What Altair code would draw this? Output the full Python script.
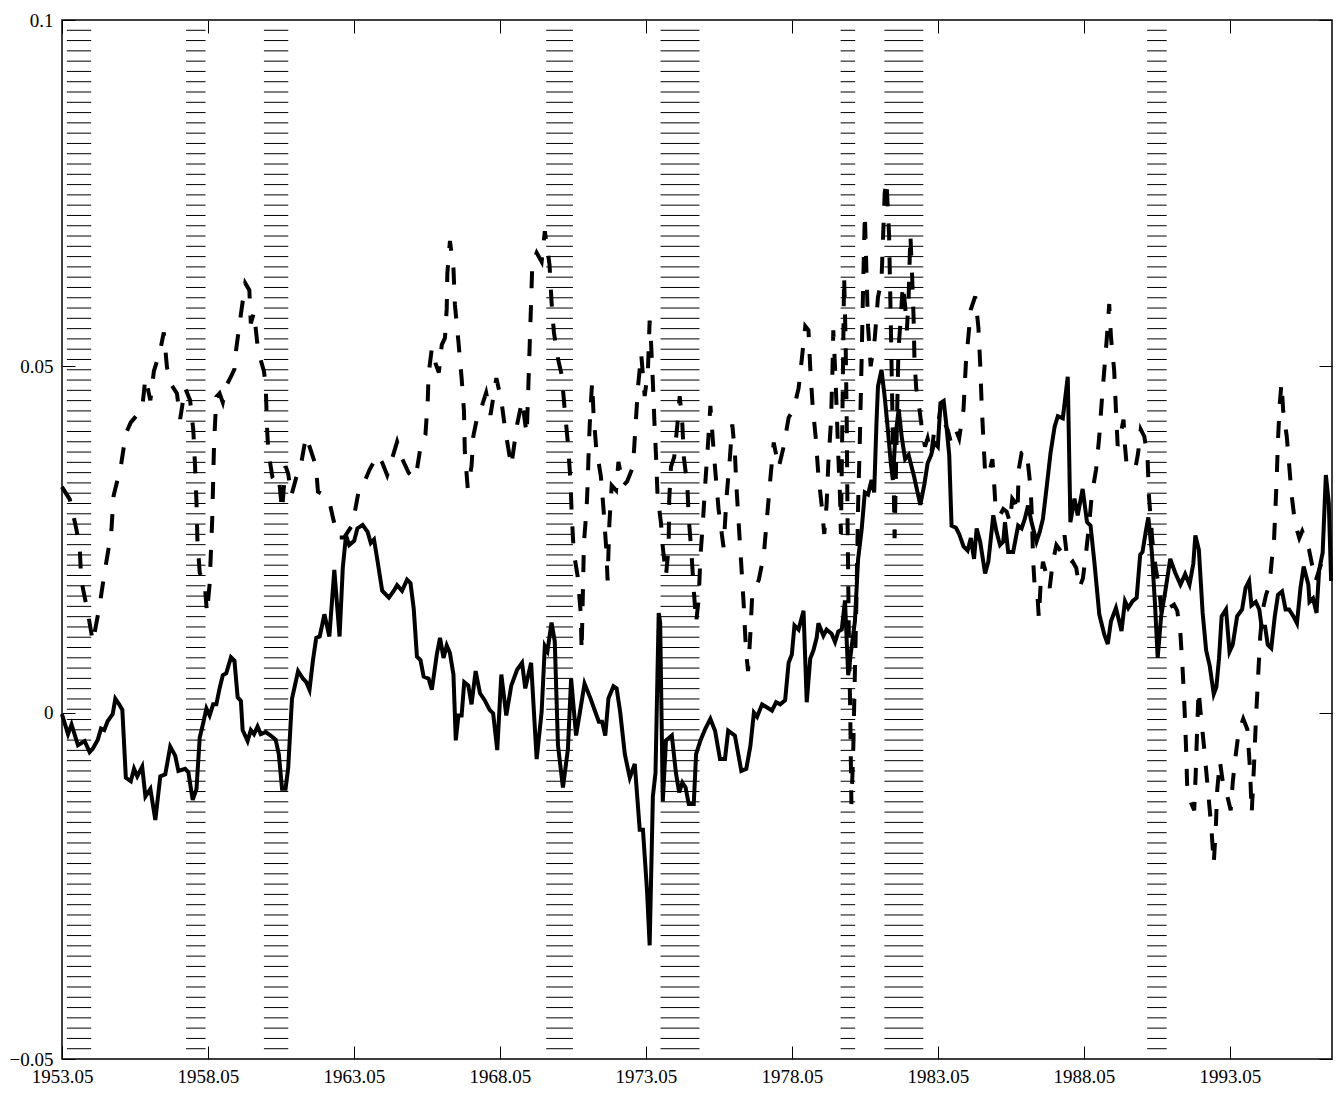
import altair as alt
import pandas as pd

# ---------------- data ----------------
solid_year = [
    1953.33, 1953.54, 1953.66, 1953.88, 1954.11, 1954.28, 1954.39, 1954.56, 1954.67, 1954.78,
    1954.90, 1955.07, 1955.16, 1955.29, 1955.40, 1955.52, 1955.69, 1955.80, 1955.91, 1956.08,
    1956.19, 1956.36, 1956.53, 1956.70, 1956.87, 1957.04, 1957.21, 1957.32, 1957.55, 1957.66,
    1957.81, 1957.94, 1958.05, 1958.17, 1958.28, 1958.39, 1958.51, 1958.62, 1958.73, 1958.84,
    1958.96, 1959.12, 1959.24, 1959.35, 1959.46, 1959.52, 1959.69, 1959.80, 1959.91, 1960.03,
    1960.14, 1960.31, 1960.48, 1960.65, 1960.76, 1960.87, 1960.99, 1961.08, 1961.21, 1961.42,
    1961.59, 1961.70, 1961.81, 1961.93, 1962.04, 1962.16, 1962.32, 1962.49, 1962.66, 1962.84,
    1962.95, 1963.06, 1963.17, 1963.34, 1963.45, 1963.63, 1963.80, 1963.91, 1964.02, 1964.14,
    1964.30, 1964.53, 1964.70, 1964.81, 1964.98, 1965.15, 1965.27, 1965.38, 1965.49, 1965.61,
    1965.72, 1965.89, 1966.00, 1966.17, 1966.28, 1966.40, 1966.51, 1966.62, 1966.74, 1966.82,
    1966.91, 1967.02, 1967.11, 1967.25, 1967.36, 1967.50, 1967.65, 1967.81, 1967.98, 1968.10,
    1968.24, 1968.38, 1968.55, 1968.72, 1968.92, 1969.09, 1969.20, 1969.40, 1969.59, 1969.76,
    1969.87, 1969.96, 1970.10, 1970.21, 1970.32, 1970.49, 1970.66, 1970.77, 1970.94, 1971.10,
    1971.23, 1971.43, 1971.60, 1971.72, 1971.83, 1971.94, 1972.05, 1972.22, 1972.33, 1972.45,
    1972.61, 1972.78, 1972.95, 1973.12, 1973.23, 1973.37, 1973.46, 1973.57, 1973.66, 1973.77,
    1973.82, 1973.91, 1974.02, 1974.22, 1974.36, 1974.47, 1974.58, 1974.69, 1974.80, 1974.97,
    1975.05, 1975.20, 1975.37, 1975.54, 1975.70, 1975.87, 1976.04, 1976.15, 1976.38, 1976.60,
    1976.77, 1976.91, 1977.03, 1977.14, 1977.31, 1977.54, 1977.65, 1977.79, 1977.93, 1978.10,
    1978.22, 1978.33, 1978.42, 1978.56, 1978.73, 1978.84, 1978.96, 1979.07, 1979.18, 1979.24,
    1979.41, 1979.52, 1979.69, 1979.81, 1979.92, 1980.04, 1980.15, 1980.26, 1980.38, 1980.49,
    1980.60, 1980.72, 1980.83, 1980.94, 1981.06, 1981.15, 1981.23, 1981.28, 1981.40, 1981.51,
    1981.62, 1981.72, 1981.79, 1981.87, 1981.99, 1982.10, 1982.21, 1982.33, 1982.51, 1982.73,
    1982.87, 1982.98, 1983.10, 1983.21, 1983.33, 1983.42, 1983.53, 1983.61, 1983.72, 1983.80,
    1983.95, 1984.06, 1984.21, 1984.35, 1984.46, 1984.57, 1984.66, 1984.78, 1984.95, 1985.06,
    1985.23, 1985.34, 1985.46, 1985.57, 1985.63, 1985.74, 1985.91, 1986.08, 1986.20, 1986.31,
    1986.42, 1986.54, 1986.71, 1986.82, 1986.93, 1987.05, 1987.19, 1987.33, 1987.44, 1987.61,
    1987.78, 1987.87, 1988.01, 1988.12, 1988.29, 1988.44, 1988.56, 1988.69, 1988.86, 1989.03,
    1989.15, 1989.26, 1989.43, 1989.54, 1989.62, 1989.74, 1989.85, 1990.00, 1990.14, 1990.26,
    1990.34, 1990.45, 1990.54, 1990.66, 1990.77, 1990.86, 1990.98, 1991.12, 1991.29, 1991.46,
    1991.64, 1991.80, 1991.95, 1992.08, 1992.15, 1992.27, 1992.40, 1992.52, 1992.64, 1992.78,
    1992.87, 1992.96, 1993.05, 1993.20, 1993.32, 1993.43, 1993.58, 1993.75, 1993.87, 1993.99,
    1994.07, 1994.22, 1994.34, 1994.42, 1994.54, 1994.63, 1994.75, 1994.87, 1994.98, 1995.12,
    1995.24, 1995.36, 1995.51, 1995.63, 1995.75, 1995.86, 1996.02, 1996.06, 1996.18, 1996.30,
    1996.39, 1996.51, 1996.62, 1996.72, 1996.80,
]
solid_value = [
    -0.0002, -0.0031, -0.0017, -0.0047, -0.0041, -0.0057, -0.0052, -0.0039, -0.0023, -0.0025,
    -0.0012, -0.0002, 0.0020, 0.0012, 0.0004, -0.0094, -0.0099, -0.0081, -0.0092, -0.0078,
    -0.0121, -0.0110, -0.0155, -0.0092, -0.0089, -0.0049, -0.0062, -0.0084, -0.0081, -0.0086,
    -0.0126, -0.0110, -0.0036, -0.0015, 0.0006, -0.0004, 0.0012, 0.0012, 0.0035, 0.0054,
    0.0057, 0.0080, 0.0075, 0.0022, 0.0017, -0.0025, -0.0041, -0.0025, -0.0031, -0.0020,
    -0.0031, -0.0028, -0.0033, -0.0039, -0.0060, -0.0110, -0.0110, -0.0080, 0.0020, 0.0060,
    0.0049, 0.0044, 0.0033, 0.0076, 0.0108, 0.0110, 0.0142, 0.0110, 0.0206, 0.0110,
    0.0209, 0.0256, 0.0242, 0.0248, 0.0266, 0.0271, 0.0261, 0.0245, 0.0250, 0.0219,
    0.0176, 0.0166, 0.0176, 0.0184, 0.0176, 0.0192, 0.0187, 0.0150, 0.0081, 0.0076,
    0.0052, 0.0049, 0.0033, 0.0084, 0.0108, 0.0079, 0.0097, 0.0086, 0.0055, -0.0040,
    -0.0004, -0.0004, 0.0044, 0.0039, 0.0012, 0.0060, 0.0028, 0.0018, 0.0004, -0.0001,
    -0.0054, 0.0055, -0.0004, 0.0039, 0.0062, 0.0072, 0.0035, 0.0072, -0.0067, 0.0001,
    0.0096, 0.0089, 0.0130, 0.0103, -0.0047, -0.0108, -0.0053, 0.0049, -0.0033, 0.0008,
    0.0042, 0.0021, 0.0001, -0.0013, -0.0013, -0.0033, 0.0021, 0.0038, 0.0035, 0.0001,
    -0.0060, -0.0094, -0.0074, -0.0169, -0.0169, -0.0257, -0.0336, -0.0121, -0.0087, 0.0144,
    0.0130, -0.0128, -0.0040, -0.0033, -0.0087, -0.0115, -0.0101, -0.0108, -0.0132, -0.0132,
    -0.0060, -0.0040, -0.0023, -0.0009, -0.0026, -0.0067, -0.0067, -0.0026, -0.0033, -0.0084,
    -0.0081, -0.0048, 0.0000, -0.0006, 0.0012, 0.0006, 0.0003, 0.0015, 0.0012, 0.0018,
    0.0072, 0.0084, 0.0126, 0.0120, 0.0147, 0.0015, 0.0078, 0.0090, 0.0108, 0.0129,
    0.0111, 0.0120, 0.0114, 0.0102, 0.0117, 0.0120, 0.0162, 0.0054, 0.0096, 0.0132,
    0.0222, 0.0264, 0.0318, 0.0315, 0.0336, 0.0318, 0.0420, 0.0471, 0.0495, 0.0456,
    0.0408, 0.0360, 0.0336, 0.0396, 0.0438, 0.0396, 0.0366, 0.0372, 0.0342, 0.0300,
    0.0330, 0.0360, 0.0372, 0.0390, 0.0384, 0.0447, 0.0450, 0.0420, 0.0372, 0.0270,
    0.0267, 0.0258, 0.0240, 0.0234, 0.0252, 0.0222, 0.0266, 0.0247, 0.0201, 0.0218,
    0.0285, 0.0261, 0.0242, 0.0247, 0.0275, 0.0232, 0.0232, 0.0270, 0.0266, 0.0280,
    0.0299, 0.0275, 0.0247, 0.0261, 0.0280, 0.0323, 0.0375, 0.0413, 0.0428, 0.0425,
    0.0485, 0.0275, 0.0309, 0.0285, 0.0323, 0.0275, 0.0270, 0.0218, 0.0142, 0.0113,
    0.0099, 0.0132, 0.0151, 0.0132, 0.0118, 0.0161, 0.0151, 0.0161, 0.0166, 0.0228,
    0.0232, 0.0261, 0.0282, 0.0232, 0.0155, 0.0079, 0.0140, 0.0175, 0.0222, 0.0202,
    0.0185, 0.0200, 0.0185, 0.0215, 0.0256, 0.0235, 0.0144, 0.0090, 0.0068, 0.0027,
    0.0037, 0.0078, 0.0139, 0.0149, 0.0088, 0.0098, 0.0139, 0.0149, 0.0180, 0.0190,
    0.0155, 0.0160, 0.0149, 0.0124, 0.0124, 0.0098, 0.0093, 0.0139, 0.0170, 0.0175,
    0.0149, 0.0149, 0.0139, 0.0129, 0.0180, 0.0211, 0.0185, 0.0160, 0.0165, 0.0144,
    0.0206, 0.0231, 0.0343, 0.0303, 0.0190,
]

dashed_year = [
    1953.33, 1953.60, 1953.82, 1953.94, 1953.99, 1954.22, 1954.39, 1954.62, 1954.79, 1955.02,
    1955.10, 1955.35, 1955.52, 1955.69, 1955.91, 1956.08, 1956.19, 1956.36, 1956.48, 1956.68,
    1956.82, 1956.93, 1957.10, 1957.27, 1957.38, 1957.55, 1957.72, 1957.83, 1957.89, 1957.94,
    1957.97, 1958.05, 1958.22, 1958.30, 1958.39, 1958.48, 1958.54, 1958.62, 1958.73, 1958.84,
    1958.96, 1959.12, 1959.24, 1959.30, 1959.47, 1959.61, 1959.75, 1959.80, 1959.91, 1960.03,
    1960.14, 1960.25, 1960.31, 1960.36, 1960.40, 1960.54, 1960.65, 1960.76, 1960.87, 1960.99,
    1961.08, 1961.19, 1961.36, 1961.53, 1961.69, 1961.82, 1962.03, 1962.10, 1962.33, 1962.50,
    1962.61, 1962.78, 1963.00, 1963.28, 1963.49, 1963.68, 1963.87, 1964.14, 1964.30, 1964.47,
    1964.81, 1964.98, 1965.21, 1965.42, 1965.49, 1965.61, 1965.78, 1965.86, 1965.89, 1966.00,
    1966.13, 1966.24, 1966.34, 1966.45, 1966.51, 1966.53, 1966.62, 1966.74, 1966.79, 1966.91,
    1967.02, 1967.10, 1967.13, 1967.23, 1967.36, 1967.42, 1967.57, 1967.70, 1967.86, 1968.01,
    1968.21, 1968.38, 1968.51, 1968.72, 1968.92, 1969.09, 1969.25, 1969.31, 1969.40, 1969.44,
    1969.59, 1969.76, 1969.87, 1970.03, 1970.10, 1970.18, 1970.32, 1970.45, 1970.54, 1970.66,
    1970.75, 1970.79, 1970.86, 1970.99, 1971.10, 1971.13, 1971.21, 1971.30, 1971.34, 1971.38,
    1971.43, 1971.49, 1971.54, 1971.63, 1971.71, 1971.79, 1971.88, 1971.97, 1972.02, 1972.08,
    1972.16, 1972.31, 1972.39, 1972.56, 1972.69, 1972.89, 1972.98, 1973.06, 1973.17, 1973.29,
    1973.40, 1973.46, 1973.51, 1973.57, 1973.62, 1973.68, 1973.73, 1973.85, 1973.91, 1974.02,
    1974.11, 1974.13, 1974.19, 1974.30, 1974.41, 1974.49, 1974.58, 1974.63, 1974.75, 1974.80,
    1974.89, 1974.97, 1975.05, 1975.14, 1975.20, 1975.28, 1975.37, 1975.46, 1975.54, 1975.62,
    1975.71, 1975.82, 1975.99, 1976.10, 1976.21, 1976.29, 1976.38, 1976.43, 1976.51, 1976.59,
    1976.68, 1976.76, 1976.83, 1976.91, 1976.97, 1977.20, 1977.37, 1977.48, 1977.59, 1977.71,
    1977.88, 1978.05, 1978.22, 1978.39, 1978.56, 1978.67, 1978.79, 1978.90, 1978.96, 1979.04,
    1979.15, 1979.24, 1979.35, 1979.44, 1979.52, 1979.58, 1979.67, 1979.72, 1979.75, 1979.81,
    1979.86, 1979.92, 1979.98, 1980.01, 1980.06, 1980.12, 1980.17, 1980.21, 1980.24, 1980.28,
    1980.33, 1980.37, 1980.43, 1980.49, 1980.55, 1980.60, 1980.66, 1980.72, 1980.77, 1980.83,
    1980.89, 1980.94, 1981.03, 1981.17, 1981.28, 1981.40, 1981.51, 1981.57, 1981.66, 1981.72,
    1981.78, 1981.85, 1981.92, 1981.98, 1982.06, 1982.13, 1982.21, 1982.27, 1982.33, 1982.39,
    1982.45, 1982.50, 1982.53, 1982.59, 1982.70, 1982.81, 1982.89, 1982.98, 1983.10, 1983.21,
    1983.33, 1983.44, 1983.55, 1983.67, 1983.78, 1983.95, 1984.06, 1984.21, 1984.29, 1984.37,
    1984.46, 1984.61, 1984.72, 1984.78, 1984.83, 1984.89, 1984.95, 1985.06, 1985.20, 1985.27,
    1985.31, 1985.46, 1985.57, 1985.69, 1985.80, 1985.88, 1985.97, 1986.06, 1986.10, 1986.20,
    1986.37, 1986.45, 1986.51, 1986.56, 1986.59, 1986.65, 1986.74, 1986.79, 1986.85, 1986.93,
    1987.05, 1987.16, 1987.27, 1987.39, 1987.56, 1987.67, 1987.76, 1987.84, 1987.95, 1988.07,
    1988.18, 1988.30, 1988.41, 1988.52, 1988.60, 1988.75, 1988.86, 1988.94, 1989.03, 1989.12,
    1989.20, 1989.26, 1989.37, 1989.43, 1989.49, 1989.60, 1989.69, 1989.74, 1989.80, 1989.94,
    1990.11, 1990.19, 1990.28, 1990.40, 1990.51, 1990.56, 1990.68, 1990.79, 1990.91, 1991.00,
    1991.13, 1991.25, 1991.42, 1991.53, 1991.64, 1991.72, 1991.79, 1991.83, 1991.87, 1992.00,
    1992.11, 1992.16, 1992.22, 1992.26, 1992.34, 1992.46, 1992.58, 1992.70, 1992.78, 1992.85,
    1992.90, 1992.99, 1993.11, 1993.22, 1993.36, 1993.43, 1993.52, 1993.63, 1993.79, 1993.93,
    1994.02, 1994.08, 1994.16, 1994.22, 1994.30, 1994.37, 1994.46, 1994.57, 1994.69, 1994.77,
    1994.84, 1994.89, 1994.94, 1994.98, 1995.04, 1995.10, 1995.16, 1995.28, 1995.36, 1995.45,
    1995.57, 1995.71, 1995.81, 1995.90, 1996.04, 1996.16, 1996.27, 1996.39, 1996.51, 1996.69,
    1996.80,
]
dashed_value = [
    0.0326, 0.0308, 0.0266, 0.0239, 0.0192, 0.0144, 0.0102, 0.0154, 0.0202, 0.0260,
    0.0313, 0.0356, 0.0403, 0.0419, 0.0430, 0.0440, 0.0483, 0.0451, 0.0493, 0.0520,
    0.0549, 0.0498, 0.0472, 0.0461, 0.0424, 0.0469, 0.0451, 0.0408, 0.0356, 0.0303,
    0.0250, 0.0202, 0.0186, 0.0144, 0.0186, 0.0281, 0.0387, 0.0456, 0.0461, 0.0448,
    0.0472, 0.0485, 0.0496, 0.0525, 0.0578, 0.0620, 0.0610, 0.0562, 0.0578, 0.0530,
    0.0509, 0.0493, 0.0472, 0.0408, 0.0377, 0.0340, 0.0334, 0.0340, 0.0292, 0.0356,
    0.0345, 0.0314, 0.0340, 0.0361, 0.0399, 0.0383, 0.0356, 0.0319, 0.0314, 0.0303,
    0.0282, 0.0253, 0.0253, 0.0271, 0.0319, 0.0332, 0.0351, 0.0372, 0.0361, 0.0343,
    0.0391, 0.0367, 0.0346, 0.0338, 0.0351, 0.0383, 0.0401, 0.0451, 0.0489, 0.0526,
    0.0504, 0.0491, 0.0531, 0.0541, 0.0584, 0.0634, 0.0681, 0.0642, 0.0589, 0.0536,
    0.0483, 0.0436, 0.0377, 0.0324, 0.0356, 0.0399, 0.0430, 0.0441, 0.0462, 0.0430,
    0.0483, 0.0451, 0.0409, 0.0356, 0.0416, 0.0450, 0.0402, 0.0477, 0.0593, 0.0647,
    0.0664, 0.0651, 0.0695, 0.0647, 0.0593, 0.0549, 0.0511, 0.0487, 0.0443, 0.0389,
    0.0334, 0.0287, 0.0232, 0.0198, 0.0144, 0.0089, 0.0246, 0.0294, 0.0334, 0.0389,
    0.0436, 0.0477, 0.0430, 0.0382, 0.0362, 0.0341, 0.0294, 0.0239, 0.0191, 0.0273,
    0.0328, 0.0321, 0.0362, 0.0328, 0.0334, 0.0355, 0.0416, 0.0470, 0.0518, 0.0457,
    0.0493, 0.0566, 0.0532, 0.0477, 0.0423, 0.0369, 0.0314, 0.0273, 0.0239, 0.0198,
    0.0239, 0.0307, 0.0355, 0.0369, 0.0416, 0.0457, 0.0416, 0.0369, 0.0328, 0.0280,
    0.0232, 0.0178, 0.0130, 0.0164, 0.0226, 0.0273, 0.0334, 0.0389, 0.0443, 0.0396,
    0.0348, 0.0294, 0.0239, 0.0314, 0.0369, 0.0416, 0.0375, 0.0328, 0.0273, 0.0219,
    0.0157, 0.0089, 0.0060, 0.0114, 0.0168, 0.0192, 0.0228, 0.0282, 0.0336, 0.0390,
    0.0354, 0.0384, 0.0426, 0.0438, 0.0468, 0.0510, 0.0558, 0.0552, 0.0498, 0.0444,
    0.0396, 0.0342, 0.0300, 0.0258, 0.0300, 0.0360, 0.0420, 0.0492, 0.0552, 0.0498,
    0.0444, 0.0372, 0.0312, 0.0258, 0.0420, 0.0630, 0.0540, 0.0420, 0.0270, 0.0120,
    0.0000, -0.0132, -0.0060, 0.0060, 0.0180, 0.0300, 0.0396, 0.0510, 0.0612, 0.0720,
    0.0630, 0.0558, 0.0500, 0.0540, 0.0600, 0.0624, 0.0750, 0.0768, 0.0690, 0.0560,
    0.0420, 0.0252, 0.0400, 0.0522, 0.0570, 0.0618, 0.0588, 0.0552, 0.0600, 0.0690,
    0.0630, 0.0570, 0.0510, 0.0468, 0.0438, 0.0402, 0.0384, 0.0396, 0.0372, 0.0408,
    0.0414, 0.0444, 0.0420, 0.0408, 0.0390, 0.0408, 0.0396, 0.0438, 0.0504, 0.0540,
    0.0582, 0.0601, 0.0556, 0.0504, 0.0447, 0.0394, 0.0347, 0.0342, 0.0366, 0.0323,
    0.0294, 0.0285, 0.0294, 0.0290, 0.0275, 0.0309, 0.0304, 0.0290, 0.0351, 0.0375,
    0.0378, 0.0347, 0.0323, 0.0275, 0.0223, 0.0180, 0.0170, 0.0137, 0.0185, 0.0218,
    0.0199, 0.0180, 0.0218, 0.0242, 0.0232, 0.0256, 0.0223, 0.0213, 0.0218, 0.0209,
    0.0180, 0.0194, 0.0232, 0.0275, 0.0313, 0.0351, 0.0399, 0.0447, 0.0494, 0.0542,
    0.0590, 0.0542, 0.0494, 0.0437, 0.0385, 0.0404, 0.0423, 0.0385, 0.0356, 0.0351,
    0.0356, 0.0375, 0.0409, 0.0399, 0.0371, 0.0313, 0.0247, 0.0209, 0.0180, 0.0139,
    0.0142, 0.0151, 0.0156, 0.0147, 0.0113, 0.0058, -0.0004, -0.0049, -0.0106, -0.0130,
    -0.0141, -0.0090, -0.0014, 0.0032, -0.0004, -0.0055, -0.0111, -0.0167, -0.0218, -0.0167,
    -0.0111, -0.0070, -0.0106, -0.0116, -0.0141, -0.0101, -0.0065, -0.0029, -0.0009, -0.0024,
    -0.0080, -0.0145, -0.0075, -0.0014, 0.0053, 0.0109, 0.0149, 0.0170, 0.0185, 0.0221,
    0.0246, 0.0292, 0.0343, 0.0394, 0.0445, 0.0476, 0.0435, 0.0399, 0.0359, 0.0313,
    0.0272, 0.0252, 0.0262, 0.0252, 0.0236, 0.0211, 0.0190, 0.0206, 0.0221, 0.0231,
    0.0231,
]

# recession periods (decimal years)
recession_start = [1953.500, 1957.583, 1960.250, 1969.917, 1973.833, 1980.000, 1981.500, 1990.500]
recession_end   = [1954.333, 1958.250, 1961.083, 1970.833, 1975.167, 1980.500, 1982.833, 1991.167]

# axis tick values and labels
x_tick_values = [1953 + 4 / 12 + 5 * k for k in range(9)]
y_tick_values = [-0.05, 0.0, 0.05, 0.1]
x_domain = [1953 + 4 / 12, 1996.83]
y_domain = [-0.05, 0.1]

# ---------------- tables ----------------
solid_df = pd.DataFrame({"year": solid_year, "value": solid_value})
dashed_df = pd.DataFrame({"year": dashed_year, "value": dashed_value})

n_hatch = 100
hatch_levels = [y_domain[0] + (y_domain[1] - y_domain[0]) * (i + 1) / (n_hatch + 1) for i in range(n_hatch)]
hatch_rows = []
for s, e in zip(recession_start, recession_end):
    for lv in hatch_levels:
        hatch_rows.append({"start": s, "end": e, "level": lv})
hatch_df = pd.DataFrame(hatch_rows)

FONT = "Liberation Serif"
FS = 19
TICK = 13

x_scale = alt.Scale(domain=x_domain, nice=False, zero=False)
y_scale = alt.Scale(domain=y_domain, nice=False, zero=False)

common_axis = dict(
    domain=False, grid=False, title=None, tickSize=TICK, offset=-TICK,
    tickColor="black", tickWidth=1, labelFont=FONT, labelFontSize=FS,
    labelColor="black", labelFlush=False, labelOverlap=False, minExtent=0,
)

hatch = alt.Chart(hatch_df).mark_rule(color="black", strokeWidth=1).encode(
    x=alt.X("start:Q", scale=x_scale,
            axis=alt.Axis(orient="bottom", values=x_tick_values, labelPadding=8,
                          labelExpr="format(floor(datum.value + 0.001), 'd') + '.05'",
                          **common_axis)),
    x2="end:Q",
    y=alt.Y("level:Q", scale=y_scale,
            axis=alt.Axis(orient="left", values=y_tick_values, format="~g",
                          labelPadding=9, **common_axis)),
)

dashed = alt.Chart(dashed_df).mark_line(
    color="black", strokeWidth=4, strokeDash=[17, 17]
).encode(
    x=alt.X("year:Q", scale=x_scale, axis=None),
    y=alt.Y("value:Q", scale=y_scale, axis=None),
    order="year:Q",
)

solid = alt.Chart(solid_df).mark_line(color="black", strokeWidth=4).encode(
    x=alt.X("year:Q", scale=x_scale,
            axis=alt.Axis(orient="top", values=x_tick_values, labels=False, **common_axis)),
    y=alt.Y("value:Q", scale=y_scale,
            axis=alt.Axis(orient="right", values=y_tick_values, labels=False, **common_axis)),
    order="year:Q",
)

chart = (
    alt.layer(hatch, dashed, solid)
    .resolve_axis(x="independent", y="independent")
    .properties(
        width=1270, height=1039, background="white",
        autosize=alt.AutoSizeParams(type="none"),
        padding={"left": 54, "top": 12, "right": 1, "bottom": 28},
    )
    .configure_view(stroke="black", strokeWidth=1.5)
)

chart.save("out.html", embed_options={"renderer": "svg", "actions": False})
